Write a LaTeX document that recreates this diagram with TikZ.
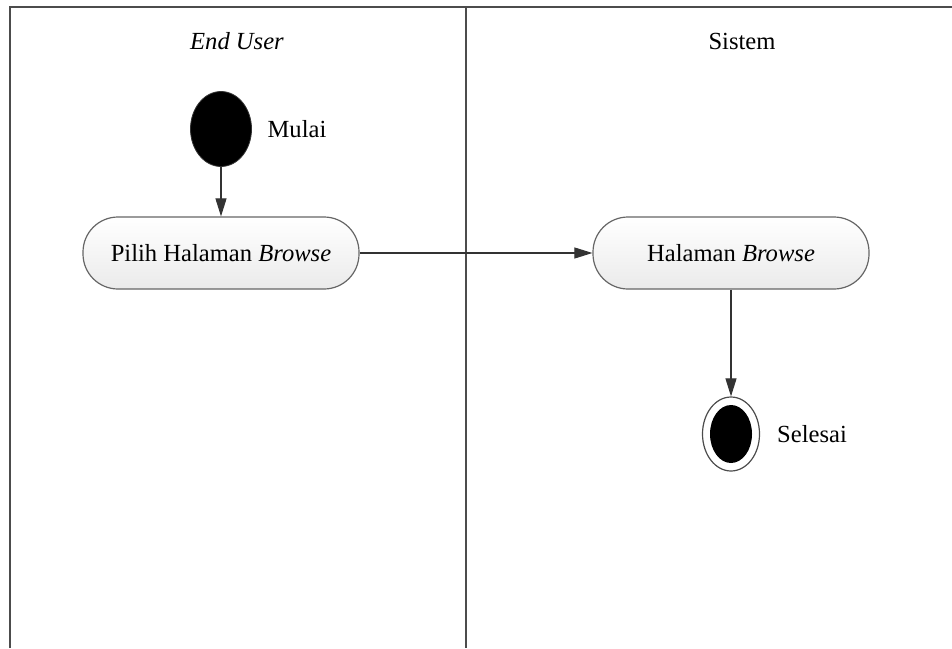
\documentclass[tikz,border=0pt]{standalone}
\usepackage{fontspec}
\setmainfont{Liberation Serif}
\usepackage{tikz}
\usetikzlibrary{arrows.meta,positioning,shapes.geometric}
\tikzset{
  laneln/.style={line width=0.8pt, draw=black!70},
  flowln/.style={-{Triangle[length=9pt,width=5.5pt]}, line width=0.55pt, black!80},
  actbox/.style={draw=black!60, line width=0.6pt, rounded corners=17.5pt,
    minimum width=138pt, minimum height=36pt, top color=white, bottom color=black!8,
    font=\fontsize{12.3}{14}\selectfont},
  startdot/.style={ellipse, fill=black, draw=black!80, minimum width=30.5pt,
    minimum height=37.5pt, inner sep=0pt},
  endring/.style={ellipse, draw=black!70, fill=white, line width=0.6pt,
    minimum width=28.5pt, minimum height=37pt, inner sep=0pt},
  enddot/.style={ellipse, fill=black, minimum width=21pt, minimum height=29pt, inner sep=0pt},
  lbl/.style={font=\fontsize{12.3}{14}\selectfont},
}
\begin{document}
\begin{tikzpicture}[x=0.5pt, y=-0.5pt]
    \useasboundingbox (0,0) rectangle (952,648);
    % swimlanes
    \draw[laneln] (10,648) -- (10,7) -- (952,7);
    \draw[laneln] (466,7) -- (466,648);
    \node[lbl, font=\fontsize{12.3}{14}\selectfont\itshape] (laneuser) at (237,41) {End User};
    \node[lbl] (lanesys) at (742,41) {Sistem};
    % start
    \node[startdot] (start) at (221,129) {};
    \node[lbl] (mulai) at (297,129) {Mulai};
    % activities
    \node[actbox] (pilih) at (221,253) {Pilih Halaman \textit{Browse}};
    \node[actbox] (browse) at (731,253) {Halaman \textit{Browse}};
    % end
    \node[endring] (stop) at (731,434) {};
    \node[enddot] (stopdot) at (stop.center) {};
    \node[lbl] (selesai) at (812,434) {Selesai};
    % flow
    \draw[flowln] (start) -- (pilih);
    \draw[flowln] (pilih) -- (browse);
    \draw[flowln] (browse) -- (stop);
  \end{tikzpicture}
\end{document}
